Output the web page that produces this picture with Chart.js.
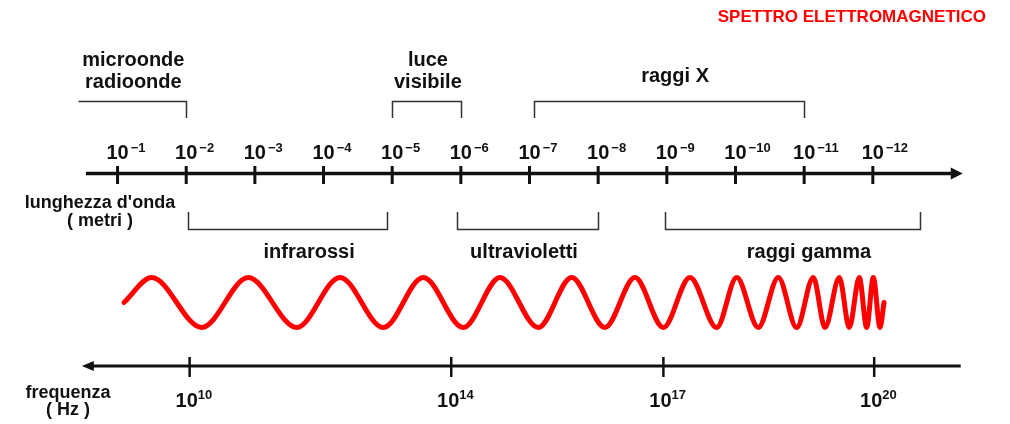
<!DOCTYPE html>
<html><head><meta charset="utf-8">
<script src="https://cdn.jsdelivr.net/npm/chart.js@4.4.1/dist/chart.umd.min.js"></script>
<style>html,body{margin:0;padding:0;background:#fff;overflow:hidden}#wrap{width:1010px;height:424px}</style>
</head><body><div id="wrap"><canvas id="c" width="1010" height="424"></canvas></div>
<script>
// Wavelength ticks: 10^e metres, placed at position k = -e on the shared horizontal scale
const wavelengthExponents = [-1, -2, -3, -4, -5, -6, -7, -8, -9, -10, -11, -12];
// Frequency ticks: 10^n Hz, and where they sit on the same scale
const frequencyExponents = [10, 14, 17, 20];
const frequencyPositions = [2.05, 5.86, 8.95, 12.02];
// Spectral bands (from / to on the wavelength scale), and label anchor
const bandNames = [['microonde', 'radioonde'], ['luce', 'visibile'], ['raggi X'], ['infrarossi'], ['ultravioletti'], ['raggi gamma']];
const bandFrom = [0.42, 5.0, 7.07, 2.03, 5.94, 8.97];
const bandTo = [2.0, 6.0, 11.0, 4.93, 8.0, 12.69];
const bandLabelAt = [1.23, 5.52, 9.12, 3.79, 6.92, 11.07];
// Illustrative wave: positions of its crests / troughs
const waveX = [1.094, 1.497, 2.226, 2.904, 3.609, 4.240, 4.871, 5.453, 6.036, 6.570, 7.128, 7.614, 8.099, 8.536, 8.949, 9.337, 9.726, 10.018, 10.332, 10.624, 10.891, 11.133, 11.304, 11.512, 11.658, 11.803, 11.911, 12.007, 12.105, 12.163];
const waveY = [0, 1, -1, 1, -1, 1, -1, 1, -1, 1, -1, 1, -1, 1, -1, 1, -1, 1, -1, 1, -1, 1, -1, 1, -1, 1, -1, 1, -1, 0];

// ---- layout / style (not data) ----
const FONT = '"Liberation Sans", Arial, Helvetica, sans-serif';
const INK = '#111111';
const bandRow = ['top', 'top', 'top', 'bottom', 'bottom', 'bottom'];
const bandOpenLeft = [true, false, false, false, false, false];
const L = {
  wlAxisY: 173.5, wlAxisFrom: 0.54, wlAxisTo: 13.31,
  fqAxisY: 366, fqAxisFrom: 0.48, fqAxisTo: 13.28,
  topBracketY: 101.5, topBracketEnd: 118,
  botBracketY: 229.5, botBracketEnd: 212,
  topLabelBase: [66, 88], topSingleBase: 82, botLabelBase: 258
};

const diagram = {
  id: 'diagram',
  afterDatasetsDraw(chart) {
    const ctx = chart.ctx, xs = chart.scales.x;
    const X = v => xs.getPixelForValue(v);
    ctx.save();
    ctx.fillStyle = INK; ctx.strokeStyle = INK;

    // title
    ctx.font = 'bold 17px ' + FONT;
    ctx.fillStyle = '#ff0000'; ctx.textAlign = 'right'; ctx.textBaseline = 'alphabetic';
    ctx.fillText('SPETTRO ELETTROMAGNETICO', 986, 22);
    ctx.fillStyle = INK;

    // wavelength axis
    ctx.lineWidth = 3.5; ctx.lineCap = 'butt';
    ctx.beginPath(); ctx.moveTo(X(L.wlAxisFrom), L.wlAxisY); ctx.lineTo(X(L.wlAxisTo) - 8, L.wlAxisY); ctx.stroke();
    ctx.beginPath();
    ctx.moveTo(X(L.wlAxisTo), L.wlAxisY);
    ctx.lineTo(X(L.wlAxisTo) - 12, L.wlAxisY - 6);
    ctx.lineTo(X(L.wlAxisTo) - 12, L.wlAxisY + 6);
    ctx.closePath(); ctx.fill();
    ctx.lineWidth = 3;
    wavelengthExponents.forEach(e => {
      const x = X(-e);
      ctx.beginPath(); ctx.moveTo(x, 166); ctx.lineTo(x, 184); ctx.stroke();
      power(ctx, x, '\u2212' + Math.abs(e), 159, 152, 2);
    });

    // frequency axis
    ctx.lineWidth = 3;
    ctx.beginPath(); ctx.moveTo(X(L.fqAxisFrom) + 8, L.fqAxisY); ctx.lineTo(X(L.fqAxisTo), L.fqAxisY); ctx.stroke();
    ctx.beginPath();
    ctx.moveTo(X(L.fqAxisFrom), L.fqAxisY);
    ctx.lineTo(X(L.fqAxisFrom) + 12, L.fqAxisY - 5);
    ctx.lineTo(X(L.fqAxisFrom) + 12, L.fqAxisY + 5);
    ctx.closePath(); ctx.fill();
    ctx.lineWidth = 2.5;
    frequencyExponents.forEach((n, i) => {
      const x = X(frequencyPositions[i]);
      ctx.beginPath(); ctx.moveTo(x, 357); ctx.lineTo(x, 377); ctx.stroke();
      power(ctx, x - 3, String(n), 407, 399, 0);
    });

    // axis titles
    ctx.textAlign = 'center';
    ctx.font = 'bold 18px ' + FONT;
    ctx.fillText("lunghezza d'onda", 100, 208);
    ctx.fillText('( metri )', 100, 226);
    ctx.fillText('frequenza', 68, 398);
    ctx.fillText('( Hz )', 68, 415);

    // bands
    ctx.lineWidth = 1.5; ctx.strokeStyle = '#333';
    bandNames.forEach((lines, i) => {
      const x0 = Math.round(X(bandFrom[i])) + 0.5, x1 = Math.round(X(bandTo[i])) + 0.5;
      const top = bandRow[i] === 'top';
      const yb = top ? L.topBracketY : L.botBracketY;
      const ye = top ? L.topBracketEnd : L.botBracketEnd;
      ctx.beginPath();
      if (bandOpenLeft[i]) { ctx.moveTo(x0, yb); } else { ctx.moveTo(x0, ye); ctx.lineTo(x0, yb); }
      ctx.lineTo(x1, yb); ctx.lineTo(x1, ye); ctx.stroke();
      ctx.font = 'bold 20px ' + FONT; ctx.textAlign = 'center';
      const lx = X(bandLabelAt[i]);
      if (top) {
        if (lines.length === 2) {
          ctx.fillText(lines[0], lx, L.topLabelBase[0]);
          ctx.fillText(lines[1], lx, L.topLabelBase[1]);
        } else ctx.fillText(lines[0], lx, L.topSingleBase);
      } else ctx.fillText(lines[0], lx, L.botLabelBase);
    });
    ctx.restore();
  }
};

function power(ctx, cx, sup, base, supBase, gap) {
  ctx.textAlign = 'left';
  ctx.font = 'bold 20px ' + FONT;
  const w = ctx.measureText('10').width;
  ctx.fillText('10', cx - w / 2, base);
  ctx.font = 'bold 13px ' + FONT;
  ctx.fillText(sup, cx + w / 2 + gap, supBase);
}

new Chart(document.getElementById('c'), {
  type: 'line',
  data: {
    datasets: [{
      data: waveX.map((x, i) => ({ x, y: waveY[i] })),
      borderColor: '#ff0000', borderWidth: 5, pointRadius: 0,
      cubicInterpolationMode: 'monotone', borderCapStyle: 'round', borderJoinStyle: 'round',
      fill: false, clip: false
    }]
  },
  options: {
    responsive: false, animation: false, devicePixelRatio: 1,
    layout: { padding: 0 },
    plugins: { legend: { display: false }, tooltip: { enabled: false } },
    scales: {
      x: { type: 'linear', min: -0.712, max: 13.998, display: false },
      y: { type: 'linear', min: -4.86, max: 12.1, display: false }
    }
  },
  plugins: [diagram]
});
</script>
</body></html>
